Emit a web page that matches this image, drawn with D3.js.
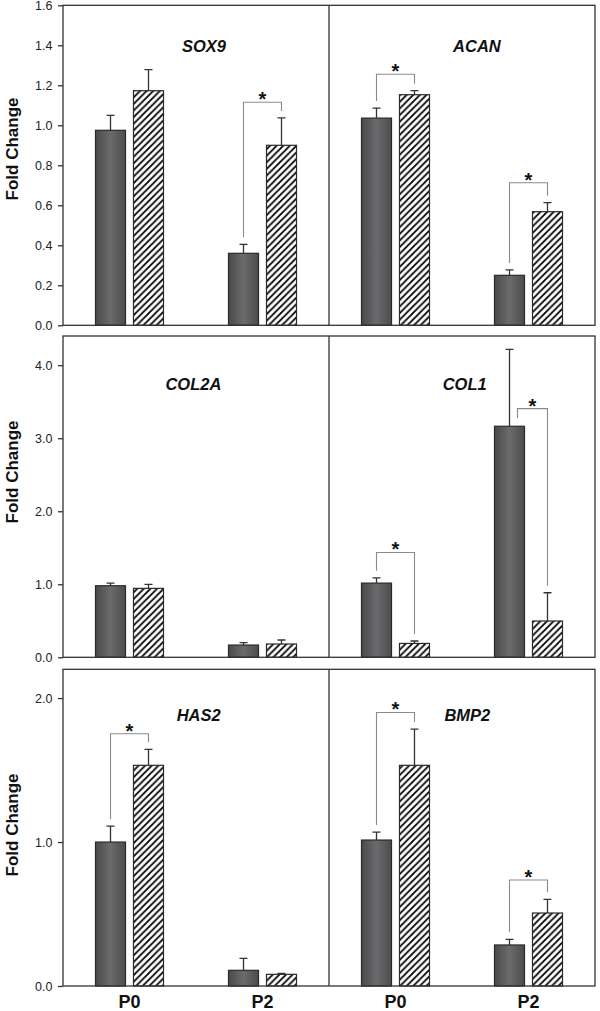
<!DOCTYPE html>
<html>
<head>
<meta charset="utf-8">
<script src="https://cdn.jsdelivr.net/npm/d3@7"></script>
<style>
  body { margin: 0; background: #fff; }
  text { font-family: "Liberation Sans", Arial, sans-serif; }
</style>
</head>
<body>
<svg id="chart" width="600" height="1011"></svg>
<script>
var genes = ["SOX9", "ACAN", "COL2A", "COL1", "HAS2", "BMP2"];
var passages = ["P0", "P2"];
var series = ["control", "treated"];

// fold change per gene, [P0, P2]
var controlMean = [[0.975, 0.36], [1.036, 0.25], [0.98, 0.168], [1.016, 3.164], [1.0, 0.109], [1.014, 0.285]];
var controlErr  = [[0.075, 0.045], [0.05, 0.027], [0.036, 0.032], [0.073, 1.053], [0.11, 0.083], [0.055, 0.039]];
var treatedMean = [[1.173, 0.90], [1.153, 0.568], [0.944, 0.182], [0.19, 0.497], [1.533, 0.081], [1.533, 0.507]];
var treatedErr  = [[0.105, 0.137], [0.02, 0.045], [0.055, 0.055], [0.033, 0.387], [0.111, 0.007], [0.252, 0.095]];

var rowMax = [1.6, 4.4, 2.2];
var rowTicks = [[0, 0.2, 0.4, 0.6, 0.8, 1.0, 1.2, 1.4, 1.6], [0, 1, 2, 3, 4], [0, 1, 2]];

// significance brackets
var sigGene = ["SOX9", "ACAN", "ACAN", "COL1", "COL1", "HAS2", "BMP2", "BMP2"];
var sigPassage = ["P2", "P0", "P2", "P0", "P2", "P0", "P0", "P2"];
var sigLevel = [1.115, 1.255, 0.713, 1.436, 3.406, 1.752, 1.90, 0.736];

// layout
var frameLeft = 63, frameMid = 329, frameRight = 595;
var rowTop = [5.3, 336, 669.3];
var rowBottom = [325.3, 657.3, 986];
var yLabelCenter = [149, 472, 825];
var titlePos = [[0.53, 47], [0.556, 47], [0.49, 54], [0.51, 54], [0.51, 52], [0.52, 52]];

var svg = d3.select("#chart");
var defs = svg.append("defs");

var grad = defs.append("linearGradient").attr("id", "darkbar")
  .attr("x1", "0%").attr("x2", "100%").attr("y1", "0%").attr("y2", "0%");
grad.append("stop").attr("offset", "0%").attr("stop-color", "#4a4a4a");
grad.append("stop").attr("offset", "50%").attr("stop-color", "#6a6b6d");
grad.append("stop").attr("offset", "100%").attr("stop-color", "#4c4c4c");

var hs = 6.6;
var hatch = defs.append("pattern").attr("id", "hatch")
  .attr("patternUnits", "userSpaceOnUse")
  .attr("width", hs).attr("height", hs);
hatch.append("rect").attr("width", hs).attr("height", hs).attr("fill", "#fff");
hatch.append("path")
  .attr("d", "M0," + hs + "L" + hs + ",0M-1,1L1,-1M" + (hs - 1) + "," + (hs + 1) + "L" + (hs + 1) + "," + (hs - 1))
  .attr("stroke", "#000").attr("stroke-width", 1.8);

var inner = d3.scaleBand().domain(series).range([-34, 34]).paddingInner(0.21);
var bw = inner.bandwidth();

rowMax.forEach(function(maxV, r) {
  var y = d3.scaleLinear().domain([0, maxV]).range([rowBottom[r], rowTop[r]]);
  var g = svg.append("g");

  [0, 1].forEach(function(c) {
    var gi = r * 2 + c;
    var gene = genes[gi];
    var x0 = c === 0 ? frameLeft : frameMid;
    var x1 = c === 0 ? frameMid : frameRight;
    var x = d3.scalePoint().domain(passages).range([x0, x1]).padding(0.5);

    var bars = [];
    passages.forEach(function(p, pi) {
      bars.push({ p: p, s: "control", mean: controlMean[gi][pi], err: controlErr[gi][pi] });
      bars.push({ p: p, s: "treated", mean: treatedMean[gi][pi], err: treatedErr[gi][pi] });
    });

    var cx = function(d) { return x(d.p) + inner(d.s) + bw / 2; };

    g.selectAll(".err-" + gi)
      .data(bars).join("path")
      .attr("class", "err-" + gi)
      .attr("d", function(d) {
        var yt = y(d.mean + d.err);
        return "M" + cx(d) + "," + y(d.mean) + "V" + yt + "M" + (cx(d) - 4) + "," + yt + "H" + (cx(d) + 4);
      })
      .attr("stroke", "#333").attr("stroke-width", 1.3).attr("fill", "none");

    g.selectAll(".bar-" + gi)
      .data(bars).join("rect")
      .attr("class", "bar-" + gi)
      .attr("x", function(d) { return x(d.p) + inner(d.s); })
      .attr("y", function(d) { return y(d.mean); })
      .attr("width", bw)
      .attr("height", function(d) { return y(0) - y(d.mean); })
      .attr("fill", function(d) { return d.s === "control" ? "url(#darkbar)" : "url(#hatch)"; })
      .attr("stroke", "#2a2a2a").attr("stroke-width", 1.2);

    // brackets
    sigGene.forEach(function(sg, k) {
      if (sg !== gene) return;
      var pi = passages.indexOf(sigPassage[k]);
      var a = bars[pi * 2], b = bars[pi * 2 + 1];
      var yl = y(sigLevel[k]);
      var ax = cx(a), ay;
      if (y(a.mean + a.err) < yl) { ax = cx(a) + 8; ay = y(a.mean) - 8; }
      else { ay = y(a.mean + a.err) - 7; }
      var bx = cx(b), by = y(b.mean + b.err) - 7;
      g.append("path")
        .attr("d", "M" + ax + "," + ay + "V" + yl + "H" + bx + "V" + by)
        .attr("fill", "none").attr("stroke", "#8a8a8a").attr("stroke-width", 1.1);
      g.append("text")
        .attr("x", (ax + bx) / 2).attr("y", yl + 4)
        .attr("text-anchor", "middle")
        .style("font-size", "20px").style("font-weight", "bold")
        .attr("fill", "#111")
        .text("*");
    });

    g.append("text")
      .attr("x", x0 + (x1 - x0) * titlePos[gi][0])
      .attr("y", rowTop[r] + titlePos[gi][1])
      .attr("text-anchor", "middle")
      .style("font-size", "16.5px").style("font-weight", "bold").style("font-style", "italic")
      .attr("fill", "#111")
      .text(gene);

    if (r === rowMax.length - 1) {
      g.selectAll(".xlab-" + gi)
        .data(passages).join("text")
        .attr("class", "xlab-" + gi)
        .attr("x", function(d) { return x(d); })
        .attr("y", 1008)
        .attr("text-anchor", "middle")
        .style("font-size", "18px").style("font-weight", "bold")
        .attr("fill", "#111")
        .text(function(d) { return d; });
    }
  });

  // frame
  g.append("rect")
    .attr("x", frameLeft).attr("y", rowTop[r])
    .attr("width", frameRight - frameLeft).attr("height", rowBottom[r] - rowTop[r])
    .attr("fill", "none").attr("stroke", "#333").attr("stroke-width", 1.3);
  g.append("line")
    .attr("x1", frameMid).attr("x2", frameMid)
    .attr("y1", rowTop[r]).attr("y2", rowBottom[r])
    .attr("stroke", "#333").attr("stroke-width", 1.3);

  var axis = g.append("g")
    .attr("transform", "translate(" + frameLeft + ",0)")
    .call(d3.axisLeft(y).tickValues(rowTicks[r]).tickFormat(d3.format(".1f"))
      .tickSize(5).tickPadding(5.5));
  axis.select(".domain").remove();
  axis.selectAll(".tick line").attr("stroke", "#333").attr("stroke-width", 1.3);
  axis.selectAll(".tick text")
    .style("font-family", "'Liberation Sans', Arial, sans-serif")
    .style("font-size", "12.5px").attr("fill", "#222");

  g.append("text")
    .attr("transform", "translate(18," + yLabelCenter[r] + ") rotate(-90)")
    .attr("text-anchor", "middle")
    .style("font-size", "17px").style("font-weight", "bold")
    .attr("fill", "#111")
    .text("Fold Change");
});
</script>
</body>
</html>
